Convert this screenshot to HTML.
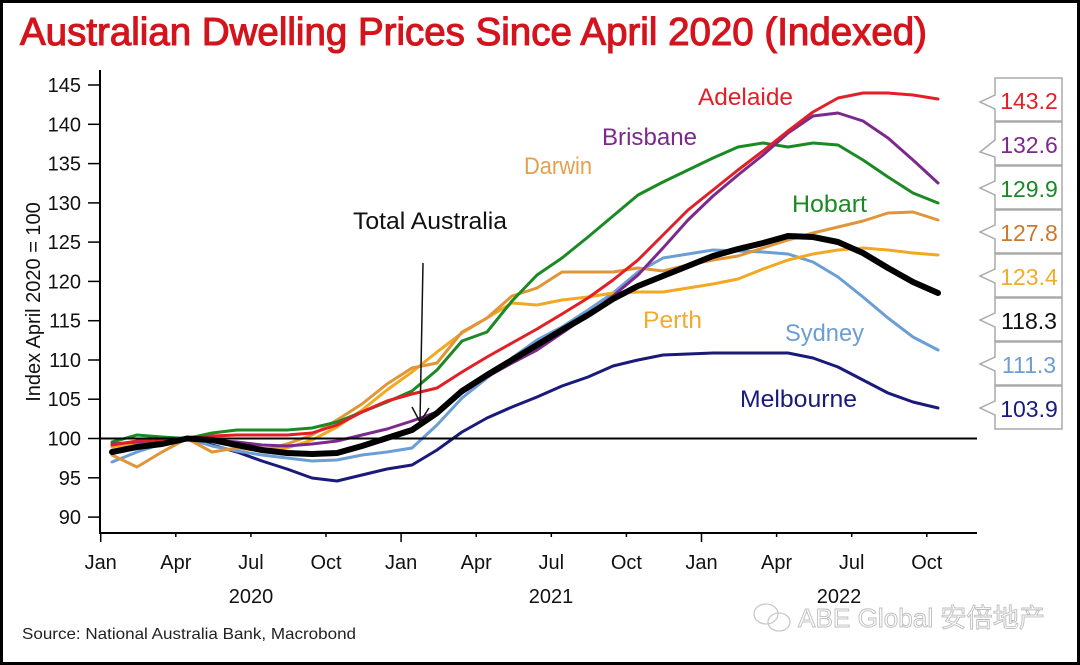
<!DOCTYPE html>
<html><head><meta charset="utf-8"><style>
html,body{margin:0;padding:0;background:#fff;}
svg{display:block;}
text{font-family:"Liberation Sans","Noto Sans CJK SC",sans-serif;}
</style></head><body>
<svg width="1080" height="665" viewBox="0 0 1080 665" xmlns="http://www.w3.org/2000/svg">
<rect x="0" y="0" width="1080" height="665" fill="#fff"/>
<rect x="1.5" y="1.5" width="1077" height="662" fill="none" stroke="#000" stroke-width="3"/>

<!-- Title -->
<text x="20" y="45" font-size="38.5" fill="#d4141c" stroke="#d4141c" stroke-width="1.1" textLength="907" lengthAdjust="spacingAndGlyphs">Australian Dwelling Prices Since April 2020 (Indexed)</text>

<!-- Y axis -->
<line x1="100" y1="70" x2="100" y2="534" stroke="#000" stroke-width="2"/>
<g stroke="#000" stroke-width="1.5">
<line x1="88" y1="85" x2="100" y2="85"/>
<line x1="88" y1="124.3" x2="100" y2="124.3"/>
<line x1="88" y1="163.6" x2="100" y2="163.6"/>
<line x1="88" y1="202.9" x2="100" y2="202.9"/>
<line x1="88" y1="242.1" x2="100" y2="242.1"/>
<line x1="88" y1="281.4" x2="100" y2="281.4"/>
<line x1="88" y1="320.7" x2="100" y2="320.7"/>
<line x1="88" y1="360" x2="100" y2="360"/>
<line x1="88" y1="399.2" x2="100" y2="399.2"/>
<line x1="88" y1="438.5" x2="100" y2="438.5"/>
<line x1="88" y1="477.8" x2="100" y2="477.8"/>
<line x1="88" y1="517.1" x2="100" y2="517.1"/>
</g>
<g font-size="20" fill="#111" text-anchor="end">
<text x="81" y="92">145</text>
<text x="81" y="131.3">140</text>
<text x="81" y="170.6">135</text>
<text x="81" y="209.9">130</text>
<text x="81" y="249.1">125</text>
<text x="81" y="288.4">120</text>
<text x="81" y="327.7">115</text>
<text x="81" y="367">110</text>
<text x="81" y="406.2">105</text>
<text x="81" y="445.5">100</text>
<text x="81" y="484.8">95</text>
<text x="81" y="524.1">90</text>
</g>
<text transform="translate(40,302) rotate(-90)" font-size="20" fill="#111" text-anchor="middle">Index April 2020 = 100</text>

<!-- X axis -->
<line x1="100" y1="533" x2="977" y2="533" stroke="#000" stroke-width="2"/>
<g stroke="#000" stroke-width="1.5">
<line x1="100.7" y1="533" x2="100.7" y2="542"/>
<line x1="175.8" y1="533" x2="175.8" y2="537"/>
<line x1="250.9" y1="533" x2="250.9" y2="537"/>
<line x1="326" y1="533" x2="326" y2="537"/>
<line x1="401.1" y1="533" x2="401.1" y2="542"/>
<line x1="476.2" y1="533" x2="476.2" y2="537"/>
<line x1="551.3" y1="533" x2="551.3" y2="537"/>
<line x1="626.4" y1="533" x2="626.4" y2="537"/>
<line x1="701.5" y1="533" x2="701.5" y2="542"/>
<line x1="776.6" y1="533" x2="776.6" y2="537"/>
<line x1="851.7" y1="533" x2="851.7" y2="537"/>
<line x1="926.8" y1="533" x2="926.8" y2="537"/>
</g>
<g font-size="20" fill="#111" text-anchor="middle">
<text x="100.7" y="569">Jan</text>
<text x="175.8" y="569">Apr</text>
<text x="250.9" y="569">Jul</text>
<text x="326" y="569">Oct</text>
<text x="401.1" y="569">Jan</text>
<text x="476.2" y="569">Apr</text>
<text x="551.3" y="569">Jul</text>
<text x="626.4" y="569">Oct</text>
<text x="701.5" y="569">Jan</text>
<text x="776.6" y="569">Apr</text>
<text x="851.7" y="569">Jul</text>
<text x="926.8" y="569">Oct</text>
<text x="251" y="603">2020</text>
<text x="551" y="603">2021</text>
<text x="839" y="603">2022</text>
</g>

<!-- Series -->
<g fill="none" stroke-linejoin="round" stroke-linecap="round">
<polyline stroke="#1a1a7a" stroke-width="3" points="112,452 137,444 162,440 187,438.5 212,445 237,452 262,461 287,469 312,478 337,481 362,475 387,469 412,465 437,450 462,432 487,418 512,407 537,397 562,386 588,377 613,366 638,360 663,355 688,354 713,353 738,353 763,353 788,353 813,358 838,367 863,380 888,393 913,402 938,408"/>
<polyline stroke="#6b9ed4" stroke-width="3" points="112,462 137,452 162,444 187,438.5 212,446 237,451 262,455 287,458 312,461 337,460 362,455 387,452 412,448 437,425 462,398 487,378 512,358 537,340 562,327 588,310 613,293 638,272 663,258 688,254 713,250 738,251 763,252 788,254 813,262 838,277 863,297 888,318 913,337 938,350"/>
<polyline stroke="#f2a922" stroke-width="3" points="112,447 137,443 162,440 187,438.5 212,441 237,444 262,449 287,448 312,440 337,427 362,410 387,390 412,372 437,352 462,333 487,318 512,303 537,305 562,300 588,297 613,293 638,292 663,292 688,288 713,284 738,279 763,269 788,260 813,254 838,250 863,248 888,250 913,253 938,255"/>
<polyline stroke="#e0953a" stroke-width="3" points="112,455 137,467 162,452 187,438.5 212,452 237,448 262,451 287,444 312,435 337,420 362,404 387,384 412,368 437,363 462,332 487,318 512,296 537,288 562,272 588,272 613,272 638,268 663,271 688,265 713,260 738,256 763,248 788,240 813,233 838,227 863,221 888,213 913,212 938,220"/>
<polyline stroke="#1b8a24" stroke-width="3" points="112,442 137,435 162,437 187,438.5 212,433 237,430 262,430 287,430 312,428 337,422 362,412 387,402 412,391 437,370 462,341 487,332 512,301 537,275 562,258 588,237 613,216 638,195 663,182 688,170 713,158 738,147 763,143 788,147 813,143 838,145 863,160 888,177 913,193 938,203"/>
<polyline stroke="#7b2a8c" stroke-width="3" points="112,444 137,442 162,440 187,438.5 212,440 237,442 262,445 287,446 312,444 337,441 362,435 387,429 412,421 437,412 462,393 487,377 512,363 537,350 562,333 588,315 613,296 638,275 663,248 688,220 713,196 738,175 763,155 788,133 813,116 838,113 863,121 888,138 913,160 938,183"/>
<polyline stroke="#e21f26" stroke-width="3" points="112,445 137,441 162,440 187,438.5 212,436 237,435 262,435 287,435 312,433 337,425 362,412 387,401 412,394 437,388 462,372 487,357 512,343 537,329 562,314 588,298 613,280 638,260 663,235 688,210 713,190 738,170 763,151 788,131 813,112 838,98 863,93 888,93 913,95 938,99"/>
<polyline stroke="#000" stroke-width="6" points="112,452 137,447 162,444 187,438.5 212,440 237,445 262,450 287,453 312,454 337,453 362,446 387,438 412,430 437,413 462,391 487,375 512,360 537,345 562,330 588,315 613,299 638,286 663,276 688,266 713,256 738,249 763,243 788,236 813,237 838,242 863,253 888,268 913,282 938,293"/>
</g>

<!-- 100 reference line -->
<line x1="100" y1="438.5" x2="977" y2="438.5" stroke="#000" stroke-width="2"/>

<!-- Series labels -->
<g font-size="24">
<text x="698" y="105" fill="#e21f26" textLength="95" lengthAdjust="spacingAndGlyphs">Adelaide</text>
<text x="602" y="145" fill="#7b2a8c" textLength="95" lengthAdjust="spacingAndGlyphs">Brisbane</text>
<text x="524" y="174" fill="#e3a04e" textLength="68" lengthAdjust="spacingAndGlyphs">Darwin</text>
<text x="792" y="212" fill="#1b8a24" textLength="75" lengthAdjust="spacingAndGlyphs">Hobart</text>
<text x="643" y="328" fill="#f0ac2a" textLength="59" lengthAdjust="spacingAndGlyphs">Perth</text>
<text x="785" y="341" fill="#6b9ed4" textLength="79" lengthAdjust="spacingAndGlyphs">Sydney</text>
<text x="740" y="407" fill="#1a1a7a" textLength="117" lengthAdjust="spacingAndGlyphs">Melbourne</text>
<text x="353" y="229" fill="#111" textLength="154" lengthAdjust="spacingAndGlyphs">Total Australia</text>
</g>

<!-- Arrow -->
<line x1="423" y1="263" x2="420" y2="421" stroke="#111" stroke-width="1.5"/>
<polyline points="412,407 420,422 429,408" fill="none" stroke="#111" stroke-width="1.5"/>

<!-- Right value labels -->
<g fill="#fff" stroke="#aaa" stroke-width="1.5">
<path d="M995,78 H1062 V121 H995 V109 L980,102 L995,95 Z"/>
<path d="M995,122 H1062 V165 H995 V157 L980,152 L995,140 Z"/>
<path d="M995,166 H1062 V209 H995 V195 L980,188 L995,181 Z"/>
<path d="M995,210 H1062 V253 H995 V239 L980,232 L995,225 Z"/>
<path d="M995,254 H1062 V297 H995 V283 L980,276 L995,269 Z"/>
<path d="M995,298 H1062 V341 H995 V327 L980,320 L995,313 Z"/>
<path d="M995,342 H1062 V385 H995 V371 L980,364 L995,357 Z"/>
<path d="M995,386 H1062 V429 H995 V415 L980,408 L995,401 Z"/>
</g>
<g font-size="23" text-anchor="middle">
<text x="1029" y="109" fill="#e21f26">143.2</text>
<text x="1029" y="153" fill="#7b2a8c">132.6</text>
<text x="1029" y="197" fill="#1b8a24">129.9</text>
<text x="1029" y="241" fill="#c97a2e">127.8</text>
<text x="1029" y="285" fill="#f0ac2a">123.4</text>
<text x="1029" y="329" fill="#111">118.3</text>
<text x="1029" y="373" fill="#6b9ed4">111.3</text>
<text x="1029" y="417" fill="#1a1a7a">103.9</text>
</g>

<!-- Source -->
<text x="22" y="639" font-size="16" fill="#222" textLength="334" lengthAdjust="spacingAndGlyphs">Source: National Australia Bank, Macrobond</text>

<!-- Watermark -->
<g fill="none" stroke="#c8c8c8" stroke-width="1.3">
<ellipse cx="766" cy="614" rx="12" ry="10"/>
<ellipse cx="779" cy="622" rx="11" ry="9"/>
</g>
<text x="798" y="627" font-size="26" fill="#fff" stroke="#bdbdbd" stroke-width="0.9" textLength="247" lengthAdjust="spacingAndGlyphs">ABE Global 安倍地产</text>
</svg>
</body></html>
